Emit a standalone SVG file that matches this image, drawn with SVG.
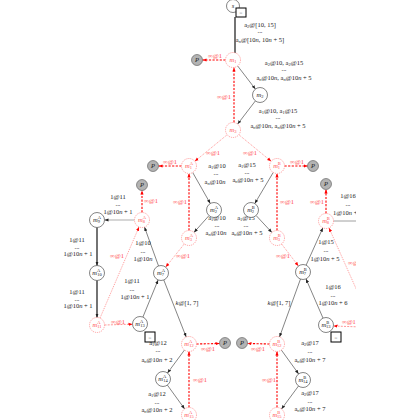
<svg xmlns="http://www.w3.org/2000/svg" width="420" height="420" viewBox="0 0 420 420">
<style>
text{font-family:"Liberation Serif","DejaVu Serif",serif}
.n circle{fill:#fff;stroke:#333;stroke-width:.6}
.r circle{fill:#fff;stroke:#ff6b6b;stroke-width:.6;stroke-dasharray:1.2 .9}
.p circle{fill:#b3b3b3;stroke:#555;stroke-width:.6}
.t{font-size:6.5px;fill:#222;text-anchor:middle}
.rt{font-size:6.5px;fill:#ff4d4d;text-anchor:middle}
.nl{font-size:6.5px;fill:#222;text-anchor:middle}
.rl{font-size:6.5px;fill:#ff4d4d;text-anchor:middle}
.i{font-style:italic}
.s{font-size:4.5px}
.e{stroke:#333;stroke-width:.6;fill:none;marker-end:url(#ab)}
.th{stroke:#000;stroke-width:1.1;fill:none}
.thA{stroke:#000;stroke-width:1.1;fill:none;marker-end:url(#ab)}
.g{stroke:#888;stroke-width:.8;fill:none}
.rd{stroke:#f00;stroke-width:1.1;fill:none;stroke-dasharray:2.2 1.4;marker-end:url(#ar)}
.ld{stroke:#ff6b6b;stroke-width:.7;fill:none;stroke-dasharray:1 1;marker-end:url(#ar)}
.ldd{stroke:#ff6b6b;stroke-width:.7;fill:none;stroke-dasharray:2 1.2;marker-end:url(#ar)}
.box{fill:#fff;stroke:#000;stroke-width:1}
.w{font-size:3.5px;fill:#888;text-anchor:middle}
</style>
<defs>
<marker id="ab" viewBox="0 0 4 4" refX="4" refY="2" markerWidth="4" markerHeight="4" orient="auto" markerUnits="userSpaceOnUse"><path d="M0,0.4 L4,2 L0,3.6z" fill="#222"/></marker>
<marker id="ar" viewBox="0 0 4 4" refX="4" refY="2" markerWidth="4" markerHeight="4" orient="auto" markerUnits="userSpaceOnUse"><path d="M0,0.4 L4,2 L0,3.6z" fill="#f00"/></marker>
<clipPath id="cp"><rect x="0" y="0" width="356" height="420"/></clipPath>
</defs>
<g clip-path="url(#cp)">
<g id="connectors">
<line class="th" x1="235" y1="17" x2="235" y2="53"/>
<line class="e" x1="237.6" y1="65.9" x2="255.4" y2="89.1"/>
<line class="e" x1="255.4" y1="100.9" x2="237.6" y2="124.1"/>
<line class="e" x1="192.7" y1="172.5" x2="210.3" y2="203.5"/>
<line class="e" x1="209" y1="215.6" x2="194" y2="232.4"/>
<line class="e" x1="273.2" y1="172.5" x2="254.8" y2="203.5"/>
<line class="e" x1="256.1" y1="215.5" x2="271.9" y2="232.5"/>
<line class="e" x1="158.5" y1="265.9" x2="144.5" y2="227.1"/>
<line class="e" style="stroke:#777" x1="134.5" y1="220" x2="104.5" y2="220"/>
<line class="thA" x1="97" y1="227.5" x2="97" y2="265.5"/>
<line class="thA" x1="97" y1="280.5" x2="97" y2="317.5"/>
<line class="e" x1="142.9" y1="317.1" x2="158.1" y2="280"/>
<line class="e" x1="163.8" y1="280" x2="186.2" y2="337"/>
<line class="e" x1="184.5" y1="350" x2="167.5" y2="373"/>
<line class="e" x1="167.4" y1="385.1" x2="184.6" y2="408.9"/>
<line class="e" x1="306.1" y1="265.2" x2="322.9" y2="227.8"/>
<line class="e" x1="323" y1="318.1" x2="306" y2="278.9"/>
<line class="e" x1="300.5" y1="279" x2="279.5" y2="337"/>
<line class="e" x1="281.4" y1="350.1" x2="298.6" y2="373.9"/>
<line class="e" x1="298.5" y1="386" x2="281.5" y2="409"/>
<line class="g" x1="333.5" y1="221" x2="362" y2="221"/>
<line class="rd" x1="225.5" y1="60" x2="202.5" y2="60"/>
<line class="rd" x1="234" y1="122.5" x2="234" y2="67.5"/>
<line class="rd" x1="181.5" y1="166" x2="158.5" y2="166"/>
<line class="rd" x1="284.5" y1="166" x2="307.5" y2="166"/>
<line class="rd" x1="189" y1="230.5" x2="189" y2="173.5"/>
<line class="rd" x1="277" y1="230.5" x2="277" y2="173.5"/>
<line class="rd" x1="142" y1="212.5" x2="142" y2="190.5"/>
<line class="rd" x1="326" y1="213.5" x2="326" y2="189.5"/>
<line class="rd" x1="196.5" y1="344" x2="219.5" y2="343.5"/>
<line class="rd" x1="189" y1="407.5" x2="189" y2="351.5"/>
<line class="rd" x1="269.5" y1="344" x2="247.5" y2="343.5"/>
<line class="rd" x1="277" y1="407.5" x2="277" y2="351.5"/>
<line class="ld" x1="227.2" y1="134.7" x2="194.8" y2="161.3"/>
<line class="ld" x1="238.8" y1="134.7" x2="271.2" y2="161.3"/>
<line class="ld" x1="184.3" y1="243.9" x2="165.7" y2="267.1"/>
<line class="ld" x1="281.6" y1="244" x2="298.4" y2="266"/>
<line class="ld" x1="100" y1="318.1" x2="139" y2="227"/>
<line class="ldd" x1="104.5" y1="325" x2="132.5" y2="324.2"/>
<line class="ld" x1="362" y1="302" x2="329" y2="227.9"/>
<line class="ldd" x1="362" y1="327" x2="333.5" y2="326"/>
</g>
<g id="edge-labels">
<text class="t" x="260" y="27">a<tspan class="s" dy="1.3">2</tspan><tspan dy="-1.3">@[10, 15]</tspan></text>
<text class="t" x="260" y="33">...</text>
<text class="t" x="260" y="42">a<tspan class="s i" dy="1.3">n</tspan><tspan dy="-1.3">@[10</tspan><tspan class="i">n</tspan>, 10<tspan class="i">n</tspan> + 5]</text>
<text class="t" x="284" y="65">a<tspan class="s" dy="1.3">2</tspan><tspan dy="-1.3">@10, a</tspan><tspan class="s" dy="1.3">2</tspan><tspan dy="-1.3">@15</tspan></text>
<text class="t" x="284" y="71">...</text>
<text class="t" x="284" y="80">a<tspan class="s i" dy="1.3">n</tspan><tspan dy="-1.3">@10</tspan><tspan class="i">n</tspan>, a<tspan class="s i" dy="1.3">n</tspan><tspan dy="-1.3">@10</tspan><tspan class="i">n</tspan> + 5</text>
<text class="t" x="278" y="113">a<tspan class="s" dy="1.3">1</tspan><tspan dy="-1.3">@10, a</tspan><tspan class="s" dy="1.3">1</tspan><tspan dy="-1.3">@15</tspan></text>
<text class="t" x="278" y="119">...</text>
<text class="t" x="278" y="128">a<tspan class="s i" dy="1.3">n</tspan><tspan dy="-1.3">@10</tspan><tspan class="i">n</tspan>, a<tspan class="s i" dy="1.3">n</tspan><tspan dy="-1.3">@10</tspan><tspan class="i">n</tspan> + 5</text>
<text class="t" x="217" y="168">a<tspan class="s" dy="1.3">1</tspan><tspan dy="-1.3">@10</tspan></text>
<text class="t" x="216" y="175">...</text>
<text class="t" x="215" y="184">a<tspan class="s i" dy="1.3">n</tspan><tspan dy="-1.3">@10</tspan><tspan class="i">n</tspan></text>
<text class="t" x="247" y="167">a<tspan class="s" dy="1.3">1</tspan><tspan dy="-1.3">@15</tspan></text>
<text class="t" x="247" y="174">...</text>
<text class="t" x="248" y="182">a<tspan class="s i" dy="1.3">n</tspan><tspan dy="-1.3">@10</tspan><tspan class="i">n</tspan> + 5</text>
<text class="t" x="217" y="220">a<tspan class="s" dy="1.3">1</tspan><tspan dy="-1.3">@10</tspan></text>
<text class="t" x="217" y="227">...</text>
<text class="t" x="216" y="235">a<tspan class="s i" dy="1.3">n</tspan><tspan dy="-1.3">@10</tspan><tspan class="i">n</tspan></text>
<text class="t" x="246" y="220">a<tspan class="s" dy="1.3">1</tspan><tspan dy="-1.3">@15</tspan></text>
<text class="t" x="246" y="227">...</text>
<text class="t" x="247" y="235">a<tspan class="s i" dy="1.3">n</tspan><tspan dy="-1.3">@10</tspan><tspan class="i">n</tspan> + 5</text>
<text class="t" x="118" y="199">1@11</text>
<text class="t" x="118" y="206">...</text>
<text class="t" x="118" y="214">1@10<tspan class="i">n</tspan> + 1</text>
<text class="t" x="77" y="242">1@11</text>
<text class="t" x="77" y="249">...</text>
<text class="t" x="78" y="256">1@10<tspan class="i">n</tspan> + 1</text>
<text class="t" x="77" y="294">1@11</text>
<text class="t" x="77" y="301">...</text>
<text class="t" x="78" y="308">1@10<tspan class="i">n</tspan> + 1</text>
<text class="t" x="143" y="245">1@10</text>
<text class="t" x="143" y="252.5">...</text>
<text class="t" x="143" y="261">1@10<tspan class="i">n</tspan></text>
<text class="t" x="132" y="283">1@11</text>
<text class="t" x="132" y="290.5">...</text>
<text class="t" x="135" y="299">1@10<tspan class="i">n</tspan> + 1</text>
<text class="t" x="187" y="305"><tspan class="i">k</tspan>@[1, 7]</text>
<text class="t" x="279" y="305"><tspan class="i">k</tspan>@[1, 7]</text>
<text class="t" x="158" y="345">a<tspan class="s" dy="1.3">1</tspan><tspan dy="-1.3">@12</tspan></text>
<text class="t" x="158" y="352">...</text>
<text class="t" x="157" y="362">a<tspan class="s i" dy="1.3">n</tspan><tspan dy="-1.3">@10</tspan><tspan class="i">n</tspan> + 2</text>
<text class="t" x="157" y="396">a<tspan class="s" dy="1.3">1</tspan><tspan dy="-1.3">@12</tspan></text>
<text class="t" x="157" y="403.5">...</text>
<text class="t" x="157" y="412">a<tspan class="s i" dy="1.3">n</tspan><tspan dy="-1.3">@10</tspan><tspan class="i">n</tspan> + 2</text>
<text class="t" x="326" y="244">1@15</text>
<text class="t" x="326" y="251.5">...</text>
<text class="t" x="325" y="261">1@10<tspan class="i">n</tspan> + 5</text>
<text class="t" x="348" y="198">1@16</text>
<text class="t" x="348" y="205.5">...</text>
<text class="t" x="333" y="215" style="text-anchor:start">1@10<tspan class="i">n</tspan> + 6</text>
<text class="t" x="333" y="289">1@16</text>
<text class="t" x="333" y="296.5">...</text>
<text class="t" x="333" y="305">1@10<tspan class="i">n</tspan> + 6</text>
<text class="t" x="310" y="345">a<tspan class="s" dy="1.3">2</tspan><tspan dy="-1.3">@17</tspan></text>
<text class="t" x="310" y="352.5">...</text>
<text class="t" x="310" y="362">a<tspan class="s i" dy="1.3">n</tspan><tspan dy="-1.3">@10</tspan><tspan class="i">n</tspan> + 7</text>
<text class="t" x="310" y="395">a<tspan class="s" dy="1.3">2</tspan><tspan dy="-1.3">@17</tspan></text>
<text class="t" x="310" y="402.5">...</text>
<text class="t" x="310" y="411">a<tspan class="s i" dy="1.3">n</tspan><tspan dy="-1.3">@10</tspan><tspan class="i">n</tspan> + 7</text>
<text class="rt" x="215" y="58">∞@1</text>
<text class="rt" x="224" y="99">∞@1</text>
<text class="rt" x="213" y="155">∞@1</text>
<text class="rt" x="250" y="155">∞@1</text>
<text class="rt" x="170" y="164">∞@1</text>
<text class="rt" x="297" y="164">∞@1</text>
<text class="rt" x="180" y="204">∞@1</text>
<text class="rt" x="287" y="204">∞@1</text>
<text class="rt" x="183" y="258">∞@1</text>
<text class="rt" x="283" y="258">∞@1</text>
<text class="rt" x="151" y="203">∞@1</text>
<text class="rt" x="117" y="258">∞@1</text>
<text class="rt" x="118" y="324">∞@1</text>
<text class="rt" x="317" y="204">∞@1</text>
<text class="rt" x="348" y="265" style="text-anchor:start">∞@1</text>
<text class="rt" x="342" y="324" style="text-anchor:start">∞@1</text>
<text class="rt" x="208" y="351">∞@1</text>
<text class="rt" x="200" y="382">∞@1</text>
<text class="rt" x="258" y="351">∞@1</text>
<text class="rt" x="269" y="382">∞@1</text>
</g>
<g id="s" class="n"><circle cx="233" cy="6" r="6.5"/><text class="nl i" x="233" y="8">s</text><rect class="box" x="236" y="8" width="10" height="9"/><text class="w" x="241" y="14">ω</text></g>
<g id="P0" class="p"><circle cx="197" cy="60" r="5.5"/><text class="nl i" x="197" y="62">P</text></g>
<g id="m1" class="r"><circle cx="233" cy="60" r="7.5"/><text class="rl" x="233" y="61.5"><tspan class="i">m</tspan><tspan class="s" dy="1.5">1</tspan></text></g>
<g id="m2" class="n"><circle cx="260" cy="95" r="7.5"/><text class="nl" x="260" y="96.5"><tspan class="i">m</tspan><tspan class="s" dy="1.5">2</tspan></text></g>
<g id="m3" class="r"><circle cx="233" cy="130" r="7.5"/><text class="rl" x="233" y="131.5"><tspan class="i">m</tspan><tspan class="s" dy="1.5">3</tspan></text></g>
<g id="PA1" class="p"><circle cx="153" cy="166" r="5.5"/><text class="nl i" x="153" y="168">P</text></g>
<g id="m1A" class="r"><circle cx="189" cy="166" r="7.5"/><text class="rl" x="189" y="167.5"><tspan class="i">m</tspan><tspan class="s" dy="-2.2">A</tspan><tspan class="s" dx="-3.2" dy="3.8">1</tspan></text></g>
<g id="m1B" class="r"><circle cx="277" cy="166" r="7.5"/><text class="rl" x="277" y="167.5"><tspan class="i">m</tspan><tspan class="s" dy="-2.2">B</tspan><tspan class="s" dx="-3.2" dy="3.8">1</tspan></text></g>
<g id="PB1" class="p"><circle cx="313" cy="166" r="5.5"/><text class="nl i" x="313" y="168">P</text></g>
<g id="m2A" class="n"><circle cx="214" cy="210" r="7.5"/><text class="nl" x="214" y="211.5"><tspan class="i">m</tspan><tspan class="s" dy="-2.2">A</tspan><tspan class="s" dx="-3.2" dy="3.8">2</tspan></text></g>
<g id="m2B" class="n"><circle cx="251" cy="210" r="7.5"/><text class="nl" x="251" y="211.5"><tspan class="i">m</tspan><tspan class="s" dy="-2.2">B</tspan><tspan class="s" dx="-3.2" dy="3.8">2</tspan></text></g>
<g id="m3A" class="r"><circle cx="189" cy="238" r="7.5"/><text class="rl" x="189" y="239.5"><tspan class="i">m</tspan><tspan class="s" dy="-2.2">A</tspan><tspan class="s" dx="-3.2" dy="3.8">3</tspan></text></g>
<g id="m3B" class="r"><circle cx="277" cy="238" r="7.5"/><text class="rl" x="277" y="239.5"><tspan class="i">m</tspan><tspan class="s" dy="-2.2">B</tspan><tspan class="s" dx="-3.2" dy="3.8">3</tspan></text></g>
<g id="PA8" class="p"><circle cx="142" cy="185" r="5.5"/><text class="nl i" x="142" y="187">P</text></g>
<g id="m8A" class="r"><circle cx="142" cy="220" r="7.5"/><text class="rl" x="142" y="221.5"><tspan class="i">m</tspan><tspan class="s" dy="-2.2">A</tspan><tspan class="s" dx="-3.2" dy="3.8">8</tspan></text></g>
<g id="m9A" class="n"><circle cx="97" cy="220" r="7.5"/><text class="nl" x="97" y="221.5"><tspan class="i">m</tspan><tspan class="s" dy="-2.2">A</tspan><tspan class="s" dx="-3.2" dy="3.8">9</tspan></text></g>
<g id="m10A" class="n"><circle cx="97" cy="273" r="7.5"/><text class="nl" x="97" y="274.5"><tspan class="i">m</tspan><tspan class="s" dy="-2.2">A</tspan><tspan class="s" dx="-3.2" dy="3.8">10</tspan></text></g>
<g id="m11A" class="r"><circle cx="97" cy="325" r="7.5"/><text class="rl" x="97" y="326.5"><tspan class="i">m</tspan><tspan class="s" dy="-2.2">A</tspan><tspan class="s" dx="-3.2" dy="3.8">11</tspan></text></g>
<g id="m7A" class="n"><circle cx="161" cy="273" r="7.5"/><text class="nl" x="161" y="274.5"><tspan class="i">m</tspan><tspan class="s" dy="-2.2">A</tspan><tspan class="s" dx="-3.2" dy="3.8">7</tspan></text></g>
<g id="m13A" class="n"><circle cx="140" cy="324" r="7.5"/><text class="nl" x="140" y="325.5"><tspan class="i">m</tspan><tspan class="s" dy="-2.2">A</tspan><tspan class="s" dx="-3.2" dy="3.8">13</tspan></text><rect class="box" x="145" y="332" width="10" height="10"/><text class="w" x="150" y="338.5">ω</text></g>
<g id="m12A" class="r"><circle cx="189" cy="344" r="7.5"/><text class="rl" x="189" y="345.5"><tspan class="i">m</tspan><tspan class="s" dy="-2.2">A</tspan><tspan class="s" dx="-3.2" dy="3.8">12</tspan></text></g>
<g id="PA12" class="p"><circle cx="225" cy="343" r="5.5"/><text class="nl i" x="225" y="345">P</text></g>
<g id="m14A" class="n"><circle cx="163" cy="379" r="7.5"/><text class="nl" x="163" y="380.5"><tspan class="i">m</tspan><tspan class="s" dy="-2.2">A</tspan><tspan class="s" dx="-3.2" dy="3.8">14</tspan></text></g>
<g id="m15A" class="r"><circle cx="189" cy="415" r="7.5"/><text class="rl" x="189" y="416.5"><tspan class="i">m</tspan><tspan class="s" dy="-2.2">A</tspan><tspan class="s" dx="-3.2" dy="3.8">15</tspan></text></g>
<g id="PB8" class="p"><circle cx="326" cy="184" r="5.5"/><text class="nl i" x="326" y="186">P</text></g>
<g id="m8B" class="r"><circle cx="326" cy="221" r="7.5"/><text class="rl" x="326" y="222.5"><tspan class="i">m</tspan><tspan class="s" dy="-2.2">B</tspan><tspan class="s" dx="-3.2" dy="3.8">8</tspan></text></g>
<g id="m7B" class="n"><circle cx="303" cy="272" r="7.5"/><text class="nl" x="303" y="273.5"><tspan class="i">m</tspan><tspan class="s" dy="-2.2">B</tspan><tspan class="s" dx="-3.2" dy="3.8">7</tspan></text></g>
<g id="m13B" class="n"><circle cx="326" cy="325" r="7.5"/><text class="nl" x="326" y="326.5"><tspan class="i">m</tspan><tspan class="s" dy="-2.2">B</tspan><tspan class="s" dx="-3.2" dy="3.8">13</tspan></text><rect class="box" x="331" y="332" width="10" height="10"/><text class="w" x="336" y="338.5">ω</text></g>
<g id="m12B" class="r"><circle cx="277" cy="344" r="7.5"/><text class="rl" x="277" y="345.5"><tspan class="i">m</tspan><tspan class="s" dy="-2.2">B</tspan><tspan class="s" dx="-3.2" dy="3.8">12</tspan></text></g>
<g id="PB12" class="p"><circle cx="242" cy="343" r="5.5"/><text class="nl i" x="242" y="345">P</text></g>
<g id="m14B" class="n"><circle cx="303" cy="380" r="7.5"/><text class="nl" x="303" y="381.5"><tspan class="i">m</tspan><tspan class="s" dy="-2.2">B</tspan><tspan class="s" dx="-3.2" dy="3.8">14</tspan></text></g>
<g id="m15B" class="r"><circle cx="277" cy="415" r="7.5"/><text class="rl" x="277" y="416.5"><tspan class="i">m</tspan><tspan class="s" dy="-2.2">B</tspan><tspan class="s" dx="-3.2" dy="3.8">15</tspan></text></g>
</g>
</svg>
